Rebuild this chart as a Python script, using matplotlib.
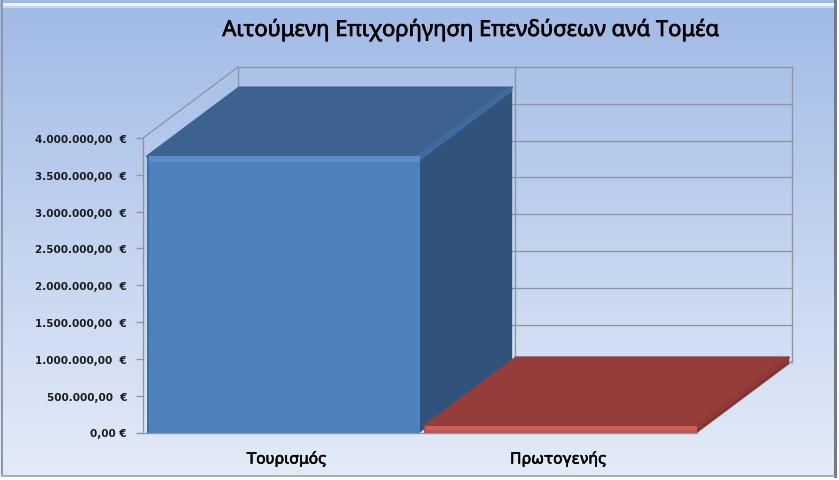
import numpy as np
import matplotlib
matplotlib.use("Agg")
import matplotlib.pyplot as plt
import matplotlib.patheffects as pe
from matplotlib.patches import Polygon, Rectangle
from matplotlib.transforms import Affine2D

# values
categories = ["Τουρισμός", "Πρωτογενής"]
values = [3750000, 85000]
tick_values = [0, 500000, 1000000, 1500000, 2000000, 2500000, 3000000, 3500000, 4000000]
tick_labels = ["0,00 €", "500.000,00  €", "1.000.000,00  €", "1.500.000,00  €", "2.000.000,00  €",
               "2.500.000,00  €", "3.000.000,00  €", "3.500.000,00  €", "4.000.000,00  €"]
title = "Αιτούμενη Επιχορήγηση Επενδύσεων ανά Τομέα"

W, H = 839, 481
DEPTH_X, DEPTH_Y = 95, 71   # pixels between front and back wall
GRID = "#8f959d"
LW = 0.95

fig = plt.figure(figsize=(W / 100, H / 100), dpi=100, facecolor="white")

# background panel with vertical gradient
bg = fig.add_axes([0, 0, 1, 1], zorder=0)
bg.axis("off")
top_col = np.array([0xa0, 0xba, 0xe6]) / 255
bot_col = np.array([0xe4, 0xeb, 0xf8]) / 255
grad = np.linspace(0, 1, 256)[:, None, None] * (bot_col - top_col)[None, None, :] + top_col
bg.imshow(grad, extent=[0, 835, 477, 0], aspect="auto", zorder=1)
bg.add_patch(Rectangle((3, 4), 831, 2.5, color="#eef3fb", lw=0, zorder=2))
bg.add_patch(Rectangle((3, 6.5), 831, 2, color="#c3d4ef", lw=0, zorder=2))
bg.add_patch(Rectangle((0.5, 0), 2.5, 478, color="#8d98a8", lw=0, zorder=3))
bg.add_patch(Rectangle((834, 0), 2.5, 479, color="#737a84", lw=0, zorder=3))
bg.add_patch(Rectangle((1, 475.5), 834, 2.5, color="#a9afb8", lw=0, zorder=3))
bg.set_xlim(0, W)
bg.set_ylim(H, 0)

ax = fig.add_axes([143 / W, (H - 433.5) / H, 554 / W, 294.5 / H], zorder=1)
ax.patch.set_alpha(0)
ax.set_xlim(0, 2)
ax.set_ylim(0, 4000000)
for s in ["top", "right"]:
    ax.spines[s].set_visible(False)
for s in ["left", "bottom"]:
    ax.spines[s].set_color(GRID)
    ax.spines[s].set_linewidth(LW)
    ax.spines[s].set_zorder(1)
ax.set_yticks(tick_values)
ax.set_yticklabels(tick_labels, fontsize=7.5, fontweight="bold", color="#1a1a1a", family="DejaVu Sans")
ax.tick_params(axis="y", length=5, width=LW, color=GRID, pad=6.5)
ax.set_xticks([0.52, 1.5])
ax.set_xticklabels(categories, fontsize=11, color="black", family="DejaVu Sans")
ax.tick_params(axis="x", length=0, pad=13)
for t in ax.get_xticklabels():
    t.set_path_effects([pe.withStroke(linewidth=0.4, foreground="black")])


def depth(d):
    # oblique projection: push data points back by a fraction of the depth
    return Affine2D().translate(d * DEPTH_X, d * DEPTH_Y)


back = ax.transData + depth(1)
ymax = tick_values[-1]

# back wall grid and frame
for v in tick_values:
    ax.plot([0, 2], [v, v], transform=back, color=GRID, lw=LW, clip_on=False, zorder=1)
for c in [0, 1, 2]:
    ax.plot([c, c], [0, ymax], transform=back, color=GRID, lw=LW, clip_on=False, zorder=1)

# side wall top edge and floor edge
p = ax.transData.transform([(0, ymax)])[0]
ax.plot([p[0], p[0] + DEPTH_X], [p[1], p[1] + DEPTH_Y], transform=None,
        color=GRID, lw=LW, clip_on=False, zorder=1)
p = ax.transData.transform([(2, 0)])[0]
ax.plot([p[0], p[0] + DEPTH_X], [p[1], p[1] + DEPTH_Y], transform=None,
        color=GRID, lw=LW, clip_on=False, zorder=1)

BAR_D = 0.97
bar_styles = [
    {"front": "#4f81bd", "top": "#3c638f", "side": "#30527b", "light": "#5a8dcb", "edge": "#3f6c9f", "dark": "#3f6ea6"},
    {"front": "#c4544f", "top": "#953d3a", "side": "#7d3230", "light": "#cb5f5a", "edge": "#8e3a37", "dark": "#b34a46"},
]

for i, (val, st) in enumerate(zip(values, bar_styles)):
    x0, x1 = i + 0.014, i + 1.0
    bl, br, tr, tl = ax.transData.transform([(x0, 0), (x1, 0), (x1, val), (x0, val)])
    off = np.array([BAR_D * DEPTH_X, BAR_D * DEPTH_Y])
    z = 3 + i
    kw = dict(transform=None, clip_on=False, zorder=z, joinstyle="round")
    ax.add_patch(Polygon([tl, tr, tr + off, tl + off], closed=True, fc=st["top"], ec=st["top"], lw=1.5, **kw))
    ax.add_patch(Polygon([br, tr, tr + off, br + off], closed=True, fc=st["side"], lw=0, **kw))
    ax.add_patch(Polygon([bl, br, tr, tl], closed=True, fc=st["front"], lw=0, **kw))
    # bevels on the edges
    bevel = min(6, (tr[1] - br[1]) * 0.55)
    ax.add_patch(Polygon([tl, tr, tr - [0, bevel], tl - [0, bevel]], closed=True, fc=st["light"], lw=0, **kw))
    band = min(4, bevel)
    ax.add_patch(Polygon([tr, tr + off, tr + off + [-band, 0], tr + [-band, band * 0.2]], closed=True,
                         fc=st["edge"], lw=0, **kw))
    ax.add_patch(Polygon([tr, tr + off, tr + off + [0, -band], tr + [0, -band]], closed=True,
                         fc=st["edge"], lw=0, **kw))
    ax.add_patch(Polygon([bl, tl, tl + [2.5, 0], bl + [2.5, 0]], closed=True, fc=st["dark"], lw=0, **kw))

fig.text(470.5 / W, 1 - 31 / H, title, ha="center", va="center", fontsize=15.8,
         family="Noto Sans", color="black", path_effects=[pe.withStroke(linewidth=0.5, foreground="black")])

fig.savefig("out.png", dpi=100)
